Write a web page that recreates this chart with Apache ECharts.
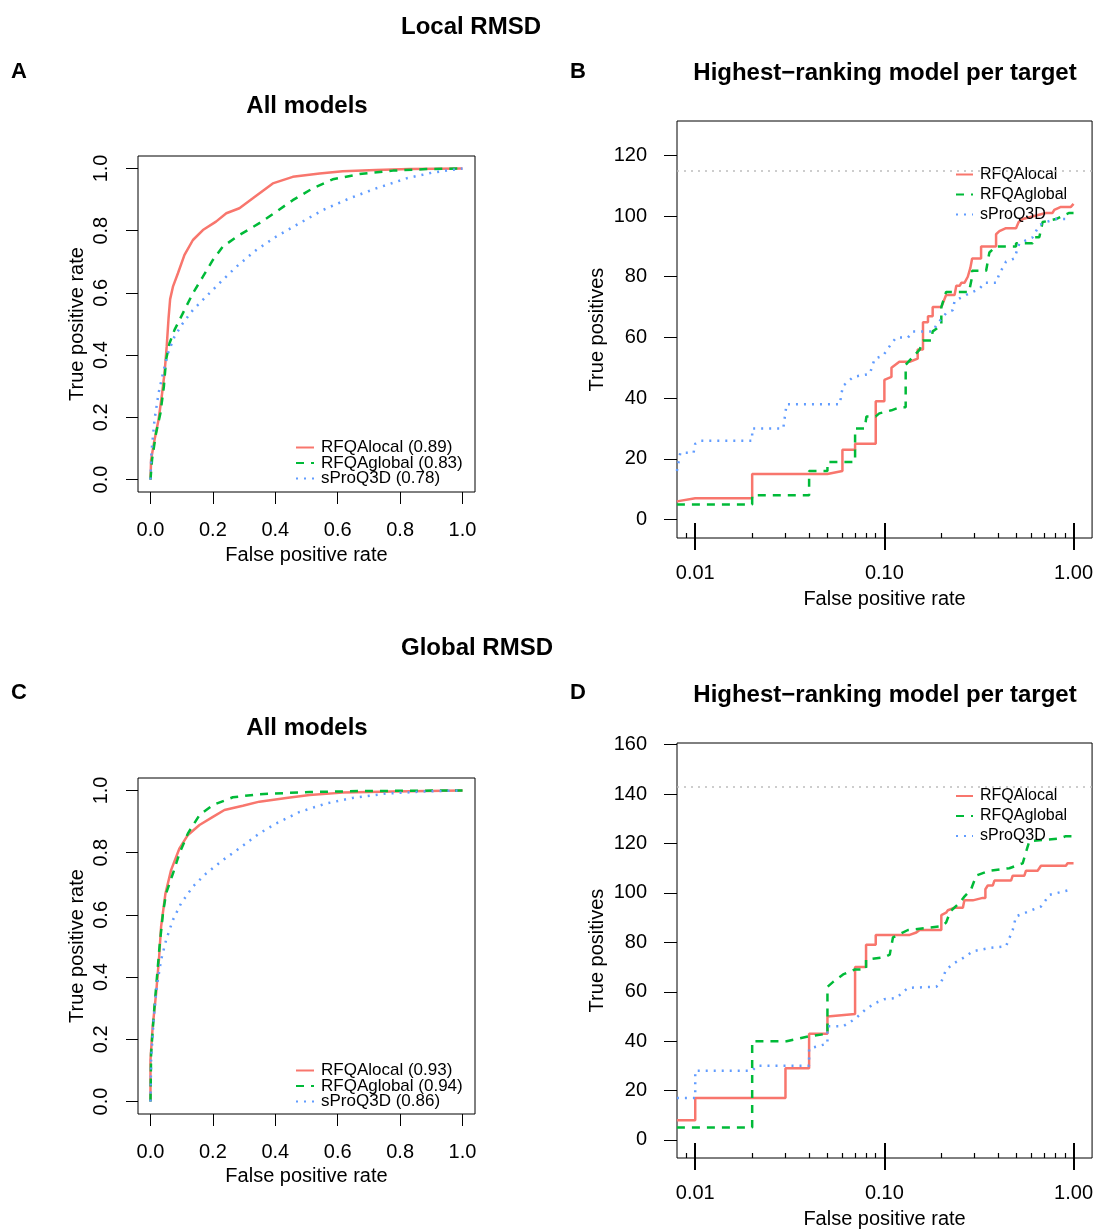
<!DOCTYPE html>
<html><head><meta charset="utf-8">
<script src="https://cdn.jsdelivr.net/npm/echarts@6/dist/echarts.min.js"></script>
<style>html,body{margin:0;padding:0;background:#fff}#chart{width:1096px;height:1230px}</style>
</head><body><div id="chart"></div>
<script>
// ---------- tick labels / constants ----------
const rateTicks = [0, 0.2, 0.4, 0.6, 0.8, 1.0];
const fprMajorTicks = [0.01, 0.1, 1];
const fprMinorTicks = [0.009, 0.02, 0.03, 0.04, 0.05, 0.06, 0.07, 0.08, 0.09, 0.2, 0.3, 0.4, 0.5, 0.6, 0.7, 0.8, 0.9];
const tpTicksB = [0, 20, 40, 60, 80, 100, 120];
const tpTicksD = [0, 20, 40, 60, 80, 100, 120, 140, 160];
const totalTargetsB = 115;
const totalTargetsD = 143;

// ---------- legend names ----------
const namesLocalAll = ['RFQAlocal (0.89)', 'RFQAglobal (0.83)', 'sProQ3D (0.78)'];
const namesGlobalAll = ['RFQAlocal (0.93)', 'RFQAglobal (0.94)', 'sProQ3D (0.86)'];
const namesTop = ['RFQAlocal', 'RFQAglobal', 'sProQ3D'];

// ---------- Panel A: Local RMSD, all models (FPR, TPR) ----------
const localAllRFQAlocal = [[0,0],[0.002,0.064],[0.013,0.128],[0.026,0.193],[0.036,0.267],[0.045,0.342],[0.052,0.428],[0.058,0.52],[0.063,0.58],[0.072,0.62],[0.088,0.663],[0.109,0.722],[0.136,0.77],[0.168,0.802],[0.21,0.829],[0.243,0.856],[0.285,0.872],[0.328,0.904],[0.392,0.952],[0.456,0.973],[0.542,0.984],[0.616,0.991],[0.723,0.995],[0.83,0.998],[1,1]];
const localAllRFQAglobal = [[0,0],[0.005,0.064],[0.018,0.15],[0.032,0.214],[0.043,0.3],[0.05,0.385],[0.061,0.438],[0.077,0.481],[0.104,0.535],[0.136,0.599],[0.168,0.652],[0.2,0.706],[0.232,0.749],[0.285,0.786],[0.349,0.824],[0.403,0.861],[0.456,0.898],[0.52,0.936],[0.584,0.965],[0.67,0.982],[0.777,0.993],[0.884,0.998],[1,1]];
const localAllSProQ3D = [[0,0],[0.003,0.086],[0.013,0.193],[0.026,0.278],[0.04,0.342],[0.056,0.406],[0.077,0.46],[0.104,0.503],[0.136,0.545],[0.178,0.588],[0.221,0.631],[0.275,0.684],[0.339,0.738],[0.403,0.781],[0.478,0.824],[0.552,0.866],[0.638,0.904],[0.723,0.936],[0.82,0.968],[0.905,0.987],[1,1]];

// ---------- Panel C: Global RMSD, all models ----------
const globalAllRFQAlocal = [[0,0],[0,0.134],[0.007,0.241],[0.018,0.348],[0.027,0.455],[0.034,0.562],[0.048,0.669],[0.066,0.744],[0.093,0.814],[0.12,0.857],[0.157,0.889],[0.2,0.915],[0.237,0.937],[0.296,0.951],[0.349,0.964],[0.435,0.976],[0.51,0.985],[0.616,0.993],[0.777,0.997],[1,1]];
const globalAllRFQAglobal = [[0,0],[0.002,0.155],[0.011,0.284],[0.02,0.391],[0.029,0.498],[0.04,0.605],[0.05,0.669],[0.072,0.733],[0.093,0.798],[0.12,0.862],[0.157,0.921],[0.2,0.953],[0.264,0.978],[0.349,0.988],[0.51,0.995],[0.67,0.998],[1,1]];
const globalAllSProQ3D = [[0,0],[0.002,0.134],[0.01,0.262],[0.02,0.369],[0.034,0.455],[0.05,0.519],[0.072,0.584],[0.098,0.637],[0.136,0.691],[0.178,0.733],[0.232,0.776],[0.285,0.814],[0.349,0.862],[0.403,0.894],[0.478,0.931],[0.563,0.958],[0.648,0.976],[0.755,0.99],[0.884,0.997],[1,1]];

// ---------- Panel B: Local RMSD, highest-ranking model per target (FPR, true positives) ----------
const localTopRFQAlocal = [[0.008,6],[0.01,7],[0.02,7],[0.02,15],[0.05,15],[0.06,16],[0.06,23],[0.07,23],[0.07,25],[0.09,25],[0.09,39],[0.1,39],[0.1,46],[0.109,47],[0.109,50],[0.12,52],[0.136,52],[0.15,53],[0.15,56],[0.16,56],[0.16,65],[0.17,65],[0.17,67],[0.18,67],[0.18,70],[0.2,70],[0.212,74],[0.235,74],[0.24,77],[0.25,77],[0.255,78],[0.265,78],[0.276,80],[0.285,83],[0.291,86],[0.3245,86],[0.3245,90],[0.3895,90],[0.3895,94],[0.4055,95],[0.4396,96],[0.4966,96],[0.5128,98],[0.5384,99],[0.7146,101],[0.7745,101],[0.791,102],[0.8574,103],[0.968,103],[1.0,104]];
const localTopRFQAglobal = [[0.008,5],[0.02,5],[0.02,8],[0.04,8],[0.04,16],[0.05,16],[0.05,19],[0.07,19],[0.07,30],[0.0787,30],[0.0804,34],[0.09,34],[0.094,35],[0.109,36],[0.1205,37],[0.1296,37],[0.1296,51],[0.1536,56],[0.16,59],[0.177,59],[0.18,62],[0.2,64],[0.2,70],[0.212,75],[0.28,75],[0.291,80],[0.291,82],[0.345,82],[0.359,88],[0.3895,90],[0.4966,90],[0.4966,91],[0.6078,91],[0.62,93],[0.659,93],[0.6864,98],[0.807,99],[0.949,101],[1.0,101]];
const localTopSProQ3D = [[0.008,16],[0.00834,22],[0.0098,22],[0.01,25],[0.0106,26],[0.02,26],[0.02,30],[0.0292,30],[0.0304,38],[0.0581,38],[0.0603,44],[0.063,45],[0.0684,47],[0.0837,48],[0.0889,53],[0.0984,54],[0.109,58],[0.1157,60],[0.1333,60],[0.1416,62],[0.1806,62],[0.188,64],[0.212,68],[0.23,69],[0.235,72],[0.2706,74],[0.318,76],[0.338,78],[0.3895,78],[0.4055,81],[0.4396,85],[0.4866,86],[0.517,91],[0.6078,93],[0.659,97],[0.7146,98],[0.807,99],[0.949,99]];

// ---------- Panel D: Global RMSD, highest-ranking model per target ----------
const globalTopRFQAlocal = [[0.008,8],[0.01,8],[0.01,17],[0.03,17],[0.03,29],[0.04,29],[0.04,43],[0.05,43],[0.05,50],[0.07,51],[0.07,70],[0.08,70],[0.08,79],[0.09,79],[0.09,83],[0.136,83],[0.1475,84],[0.1536,85],[0.2,85],[0.2,91],[0.212,92],[0.2166,93],[0.235,94],[0.26,94],[0.2648,97],[0.2934,97],[0.3313,98],[0.342,98],[0.342,101.5],[0.352,103],[0.374,103],[0.3818,105],[0.4672,105],[0.477,107],[0.5495,107],[0.5607,109],[0.6459,109],[0.6728,111],[0.911,111],[0.93,112],[1.0,112]];
const globalTopRFQAglobal = [[0.008,5],[0.02,5],[0.02,40],[0.0304,40],[0.04,42],[0.05,43],[0.05,62],[0.0536,64],[0.0605,67],[0.0698,69],[0.08,69],[0.08,73],[0.1004,74],[0.1067,75],[0.111,82],[0.1333,85],[0.2,86.5],[0.212,88],[0.2229,92.5],[0.2495,96],[0.2648,98.5],[0.2875,101.5],[0.3056,107],[0.359,109],[0.4578,110],[0.5384,112],[0.5839,121],[0.84,122],[0.911,123],[1.0,123]];
const globalTopSProQ3D = [[0.008,17],[0.01,17],[0.01,28],[0.02,28],[0.0211,30],[0.04,30],[0.04,37],[0.05,39],[0.05,46],[0.0605,46],[0.07,49],[0.08,53],[0.09,55.5],[0.1,57],[0.1157,57.5],[0.1333,61.6],[0.188,62],[0.2,64],[0.212,69],[0.235,71.7],[0.2706,74.4],[0.2934,76.4],[0.359,77.7],[0.4396,78.4],[0.4578,81.7],[0.477,85],[0.4966,90.5],[0.6078,93.2],[0.6728,94.5],[0.7146,97.2],[0.744,99.2],[0.949,101.2]];

// ---------- styling ----------
const FONT = '"Liberation Sans", Arial, Helvetica, sans-serif';
const COLORS = ['#F8766D', '#00BA38', '#619CFF'];
const DASHES = ['solid', [8, 7], [2, 6]];

const chart = echarts.init(document.getElementById('chart'), null, {renderer: 'canvas'});

const txt = (size, weight) => ({fontFamily: FONT, fontSize: size, fontWeight: weight || 'normal', color: '#000'});

function rocX(gi, nameGap) {
  return {
    type: 'value', gridIndex: gi, min: -0.04, max: 1.04,
    axisLine: {show: false, onZero: false}, splitLine: {show: false},
    axisTick: {show: true, customValues: rateTicks, length: 12, lineStyle: {color: '#000', width: 1}},
    axisLabel: {customValues: rateTicks, formatter: v => v.toFixed(1), margin: 28, ...txt(20)},
    name: 'False positive rate', nameLocation: 'middle', nameGap: nameGap, nameTextStyle: txt(20)
  };
}
function rocY(gi) {
  return {
    type: 'value', gridIndex: gi, min: -0.04, max: 1.04,
    axisLine: {show: false, onZero: false}, splitLine: {show: false},
    axisTick: {show: true, customValues: rateTicks, length: 12, lineStyle: {color: '#000', width: 1}},
    axisLabel: {customValues: rateTicks, formatter: v => v.toFixed(1), margin: 27, rotate: 90, ...txt(20)},
    name: 'True positive rate', nameLocation: 'middle', nameGap: 51, nameTextStyle: txt(20)
  };
}
const FPR_MIN = 0.00801, FPR_MAX = 1.253;
function logXAxes(gi) {
  const base = {type: 'log', gridIndex: gi, min: FPR_MIN, max: FPR_MAX, position: 'bottom',
    axisLine: {show: false, onZero: false}, splitLine: {show: false}};
  return [
    Object.assign({}, base, {
      axisTick: {show: true, customValues: fprMajorTicks, length: 12, lineStyle: {color: '#000', width: 2}},
      axisLabel: {customValues: fprMajorTicks, formatter: v => Number(v).toFixed(2), margin: 25, ...txt(20)},
      name: 'False positive rate', nameLocation: 'middle', nameGap: 51, nameTextStyle: txt(20)
    }),
    Object.assign({}, base, {
      axisTick: {show: true, inside: true, customValues: fprMajorTicks, length: 15, lineStyle: {color: '#000', width: 2}},
      axisLabel: {show: false}
    }),
    Object.assign({}, base, {
      axisTick: {show: true, inside: true, customValues: fprMinorTicks, length: 5, lineStyle: {color: '#000', width: 1.2}},
      axisLabel: {show: false}
    })
  ];
}
function tpY(gi, min, max, ticks) {
  return {
    type: 'value', gridIndex: gi, min: min, max: max,
    axisLine: {show: false, onZero: false}, splitLine: {show: false},
    axisTick: {show: true, customValues: ticks, length: 13, lineStyle: {color: '#000', width: 1}},
    axisLabel: {customValues: ticks, margin: 30, ...txt(20)},
    name: 'True positives', nameLocation: 'middle', nameGap: 70, nameTextStyle: txt(20)
  };
}

function line(name, data, k, xi, yi, extra) {
  return Object.assign({
    type: 'line', name: name, data: data, xAxisIndex: xi, yAxisIndex: yi,
    symbol: 'none', showSymbol: false, animation: false, emphasis: {disabled: true},
    lineStyle: {color: COLORS[k], width: 2.5, type: DASHES[k]},
    itemStyle: {color: COLORS[k]}, z: 3
  }, extra || {});
}
function totalLine(v) {
  return {silent: true, symbol: ['none', 'none'], label: {show: false}, animation: false,
    lineStyle: {color: '#bdbdbd', type: [2, 5], width: 1.6}, data: [{yAxis: v}]};
}

function legendAt(names, left, top, fs, gap, iw) {
  return {
    data: names, orient: 'vertical', left: left, top: top, padding: 0,
    itemWidth: iw, itemHeight: 10, itemGap: gap, selectedMode: false,
    itemStyle: {opacity: 0},
    textStyle: {fontFamily: FONT, fontSize: fs, color: '#000', padding: [0, 0, 0, 2]}
  };
}

function ttl(text, x, y, size) {
  return {text: text, left: x, top: y, textAlign: 'center', textVerticalAlign: 'middle', padding: 0,
    textStyle: txt(size, 'bold')};
}

const option = {
  backgroundColor: '#fff',
  animation: false,
  title: [
    ttl('Local RMSD', 471, 27, 24),
    ttl('A', 19, 72, 22),
    ttl('B', 578, 72, 22),
    ttl('All models', 307, 106, 24),
    ttl('Highest\u2212ranking model per target', 885, 73, 24),
    ttl('Global RMSD', 477, 648, 24),
    ttl('C', 19, 693, 22),
    ttl('D', 578, 693, 22),
    ttl('All models', 307, 728, 24),
    ttl('Highest\u2212ranking model per target', 885, 695, 24)
  ],
  grid: [
    {left: 138, top: 156, width: 337, height: 336, show: true, borderColor: '#000', borderWidth: 1, backgroundColor: 'transparent', containLabel: false},
    {left: 138, top: 778, width: 337, height: 336, show: true, borderColor: '#000', borderWidth: 1, backgroundColor: 'transparent', containLabel: false},
    {left: 677, top: 121, width: 416, height: 417, show: true, borderColor: '#000', borderWidth: 1, backgroundColor: 'transparent', containLabel: false},
    {left: 677, top: 743, width: 416, height: 416, show: true, borderColor: '#000', borderWidth: 1, backgroundColor: 'transparent', containLabel: false}
  ],
  xAxis: [rocX(0, 53), rocX(1, 52)].concat(logXAxes(2), logXAxes(3)),
  yAxis: [rocY(0), rocY(1), tpY(2, -6.06, 131.3, tpTicksB), tpY(3, -7.3, 160.7, tpTicksD)],
  legend: [
    legendAt(namesLocalAll, 295, 439, 17, -1.5, 18),
    legendAt(namesGlobalAll, 295, 1062, 17, -1.5, 18),
    legendAt(namesTop, 955, 166.5, 16, 4, 17),
    legendAt(namesTop, 955, 788, 16, 4, 17)
  ],
  series: [
    line(namesLocalAll[0], localAllRFQAlocal, 0, 0, 0),
    line(namesLocalAll[1], localAllRFQAglobal, 1, 0, 0),
    line(namesLocalAll[2], localAllSProQ3D, 2, 0, 0),
    line(namesGlobalAll[0], globalAllRFQAlocal, 0, 1, 1),
    line(namesGlobalAll[1], globalAllRFQAglobal, 1, 1, 1),
    line(namesGlobalAll[2], globalAllSProQ3D, 2, 1, 1),
    line(namesTop[0], localTopRFQAlocal, 0, 2, 2, {markLine: totalLine(totalTargetsB)}),
    line(namesTop[1], localTopRFQAglobal, 1, 2, 2),
    line(namesTop[2], localTopSProQ3D, 2, 2, 2),
    line(namesTop[0], globalTopRFQAlocal, 0, 5, 3, {markLine: totalLine(totalTargetsD)}),
    line(namesTop[1], globalTopRFQAglobal, 1, 5, 3),
    line(namesTop[2], globalTopSProQ3D, 2, 5, 3)
  ]
};
chart.setOption(option);
</script>
</body></html>
